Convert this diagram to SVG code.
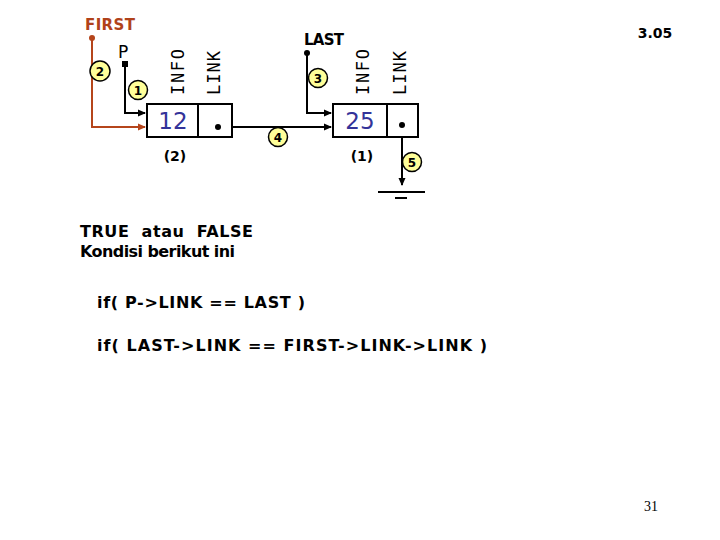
<svg xmlns="http://www.w3.org/2000/svg" width="720" height="540" viewBox="0 0 720 540">
<defs>
<marker id="ab" markerWidth="8" markerHeight="8" refX="7" refY="4" orient="auto" markerUnits="userSpaceOnUse"><path d="M0,0.5 L8,4 L0,7.5 Z" fill="#000"/></marker>
<marker id="ar" markerWidth="8" markerHeight="8" refX="7" refY="4" orient="auto" markerUnits="userSpaceOnUse"><path d="M0,0.5 L8,4 L0,7.5 Z" fill="#b5451b"/></marker>
<style>
.box{fill:#fff;stroke:#000;stroke-width:2}
.val{font-family:"DejaVu Sans",sans-serif;font-size:23px;fill:#333399;text-anchor:middle}
.lab{font-family:"DejaVu Sans Mono",monospace;font-size:17px;fill:#000}
.b{font-family:"DejaVu Sans",sans-serif;font-weight:bold;fill:#000}
.num{fill:#ffff99;stroke:#000;stroke-width:1.5}
.nt{font-family:"DejaVu Sans",sans-serif;font-weight:bold;font-size:12px;text-anchor:middle}
.ln{stroke:#000;stroke-width:2;fill:none}
.rl{stroke:#b5451b;stroke-width:2;fill:none}
.t{font-family:"DejaVu Sans",sans-serif;font-weight:bold;font-size:16px;fill:#000}
</style>
</defs>
<rect width="720" height="540" fill="#fff"/>
<g id="connectors">
<path class="rl" d="M92,38 V127 H145" marker-end="url(#ar)"/>
<circle cx="92" cy="38" r="3" fill="#b5451b"/>
<path class="ln" d="M125,64 V113 H145" marker-end="url(#ab)"/>
<rect x="122" y="61" width="6" height="6" fill="#000"/>
<path class="ln" d="M218,127 H331" marker-end="url(#ab)"/>
<path class="ln" d="M307,53 V113 H331" marker-end="url(#ab)"/>
<circle cx="307" cy="53" r="3" fill="#000"/>
<path class="ln" d="M402,125 V185" marker-end="url(#ab)"/>
<path class="ln" d="M378,192 H425 M395,198 H407"/>
</g>
<g id="first"><text x="85" y="30" class="b" font-size="15" textLength="50" style="fill:#b0421a">FIRST</text></g>
<g id="p"><text x="118" y="58" font-family="DejaVu Sans, sans-serif" font-size="17">P</text></g>
<g id="last"><text x="304" y="45" class="b" font-size="15" textLength="40">LAST</text></g>
<g id="node1">
<rect class="box" x="147" y="104" width="85" height="33"/>
<line class="ln" x1="198" y1="104" x2="198" y2="137"/>
<text class="val" x="173" y="129">12</text>
<circle cx="218" cy="127" r="3" fill="#000"/>
<text class="lab" transform="translate(184,95) rotate(-90)" textLength="46">INFO</text>
<text class="lab" transform="translate(220,95) rotate(-90)" textLength="44">LINK</text>
<text class="b" x="175" y="161" font-size="14" text-anchor="middle">(2)</text>
</g>
<g id="node2">
<rect class="box" x="333" y="104" width="85" height="33"/>
<line class="ln" x1="387" y1="104" x2="387" y2="137"/>
<text class="val" x="360" y="129">25</text>
<circle cx="402" cy="125" r="3" fill="#000"/>
<text class="lab" transform="translate(369,95) rotate(-90)" textLength="46">INFO</text>
<text class="lab" transform="translate(406,95) rotate(-90)" textLength="44">LINK</text>
<text class="b" x="362" y="161" font-size="14" text-anchor="middle">(1)</text>
</g>
<g id="c1"><circle class="num" cx="138" cy="90" r="9.5"/><text class="nt" x="138" y="94.5">1</text></g>
<g id="c2"><circle class="num" cx="100" cy="71" r="10"/><text class="nt" x="100" y="75.5">2</text></g>
<g id="c3"><circle class="num" cx="318" cy="78" r="9.5"/><text class="nt" x="318" y="82.5">3</text></g>
<g id="c4"><circle class="num" cx="278" cy="137" r="9.5"/><text class="nt" x="278" y="141.5">4</text></g>
<g id="c5"><circle class="num" cx="412" cy="162" r="9.5"/><text class="nt" x="412" y="166.5">5</text></g>
<text class="b" x="655" y="38" font-size="14" text-anchor="middle">3.05</text>
<text class="t" x="80" y="237" textLength="173" xml:space="preserve">TRUE  atau  FALSE</text>
<text class="t" x="80" y="257" textLength="155">Kondisi berikut ini</text>
<text class="t" x="97" y="308" textLength="208">if( P->LINK == LAST )</text>
<text class="t" x="97" y="351" textLength="390">if( LAST->LINK == FIRST->LINK->LINK )</text>
<text x="651" y="511" font-family="Liberation Serif, serif" font-size="14" text-anchor="middle">31</text>
</svg>
